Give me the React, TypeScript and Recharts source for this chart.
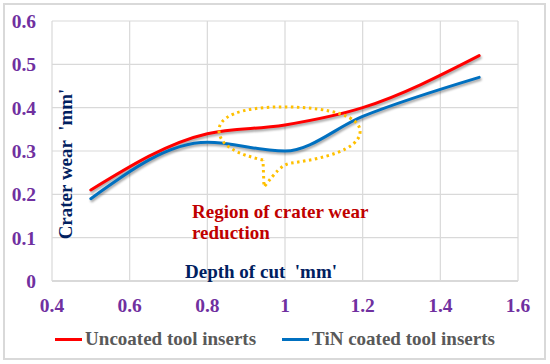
import React from "react";
import { LineChart, Line, XAxis, YAxis, CartesianGrid, Legend } from "recharts";

const depthOfCut = [0.5, 0.8, 1.0, 1.2, 1.5];
const uncoated = [0.21, 0.34, 0.36, 0.4, 0.52];
const tinCoated = [0.19, 0.32, 0.3, 0.38, 0.47];
const xTicks = [0.4, 0.6, 0.8, 1, 1.2, 1.4, 1.6];
const yTicks = [0, 0.1, 0.2, 0.3, 0.4, 0.5, 0.6];

const data = depthOfCut.map((d, i) => ({ d, uncoated: uncoated[i], tin: tinCoated[i] }));

const FONT = '"Liberation Serif", "Times New Roman", serif';
const PURPLE = "#7030A0";
const NAVY = "#002060";

const legendItems = [
  { label: "Uncoated tool inserts", color: "#FF0000" },
  { label: "TiN coated tool inserts", color: "#0070C0" },
];

const LegendContent = () => (
  <div style={{ display: "flex", justifyContent: "center", alignItems: "center", gap: 26, fontFamily: FONT }}>
    {legendItems.map((it) => (
      <div key={it.label} style={{ display: "flex", alignItems: "center" }}>
        <div style={{ width: 27, height: 3, background: it.color, marginRight: 3 }} />
        <span style={{ fontSize: 19, fontWeight: "bold", color: "#595959" }}>{it.label}</span>
      </div>
    ))}
  </div>
);

export default function App() {
  return (
    <div style={{ position: "fixed", left: 0, top: 0, width: 550, height: 364, background: "#fff" }}>
      <style>{`.recharts-line-curve { filter: drop-shadow(1.5px 2px 1.2px rgba(0,0,0,0.35)); }`}</style>
      <div style={{ position: "absolute", left: 3, top: 3, width: 539, height: 353, border: "2px solid #d9d9d9" }} />
      <div style={{ position: "absolute", left: 0, top: 0 }}>
        <LineChart width={550} height={364} data={data} margin={{ top: 21, right: 32, left: 0, bottom: 53 }}>
          <CartesianGrid stroke="#d9d9d9" strokeWidth={1.2} horizontalValues={yTicks} verticalValues={xTicks} />
          <XAxis
            dataKey="d"
            type="number"
            domain={[0.4, 1.6]}
            ticks={xTicks}
            height={30}
            tickLine={false}
            axisLine={{ stroke: "#d9d9d9", strokeWidth: 2 }}
            tickMargin={11}
            tick={{ fill: PURPLE, fontSize: 19.5, fontWeight: "bold", fontFamily: FONT }}
            allowDataOverflow
          />
          <YAxis
            type="number"
            domain={[0, 0.6]}
            ticks={yTicks}
            width={52}
            tickLine={false}
            axisLine={false}
            tickMargin={10}
            tick={{ fill: PURPLE, fontSize: 19.5, fontWeight: "bold", fontFamily: FONT }}
          />
          <Legend
            layout="horizontal"
            verticalAlign="middle"
            align="center"
            wrapperStyle={{ top: 328, left: 0, width: 550 }}
            content={<LegendContent />}
          />
          <Line
            type="monotone"
            dataKey="uncoated"
            stroke="#FF0000"
            strokeWidth={3}
            dot={false}
            strokeLinecap="round"
            isAnimationActive={false}
          />
          <Line
            type="monotone"
            dataKey="tin"
            stroke="#0070C0"
            strokeWidth={3}
            dot={false}
            strokeLinecap="round"
            isAnimationActive={false}
          />
        </LineChart>
      </div>
      <svg width={550} height={364} style={{ position: "absolute", left: 0, top: 0, pointerEvents: "none" }}>
        <path
          d="M 263 160 C 240 155, 218 146, 219 129 C 221 111, 258 106, 290 107 C 330 108, 362 116, 360 133 C 358 150, 322 159, 291 163 C 281 165, 276 172, 264 187 L 263 160"
          fill="none"
          stroke="#FFC000"
          strokeWidth={3}
          strokeDasharray="2.5 3.5"
        />
        <text x={192} y={218} fill="#C00000" fontFamily={FONT} fontWeight="bold" fontSize={19}>
          Region of crater wear
        </text>
        <text x={192} y={239} fill="#C00000" fontFamily={FONT} fontWeight="bold" fontSize={19}>
          reduction
        </text>
        <text x={185} y={278} fill={NAVY} fontFamily={FONT} fontWeight="bold" fontSize={19} style={{ whiteSpace: "pre" }}>
          {"Depth of cut  'mm'"}
        </text>
        <text
          x={0}
          y={0}
          transform="translate(72 164) rotate(-90)"
          textAnchor="middle"
          fill={NAVY}
          fontFamily={FONT}
          fontWeight="bold"
          fontSize={19}
          style={{ whiteSpace: "pre" }}
        >
          {"Crater wear  'mm'"}
        </text>
      </svg>
    </div>
  );
}
